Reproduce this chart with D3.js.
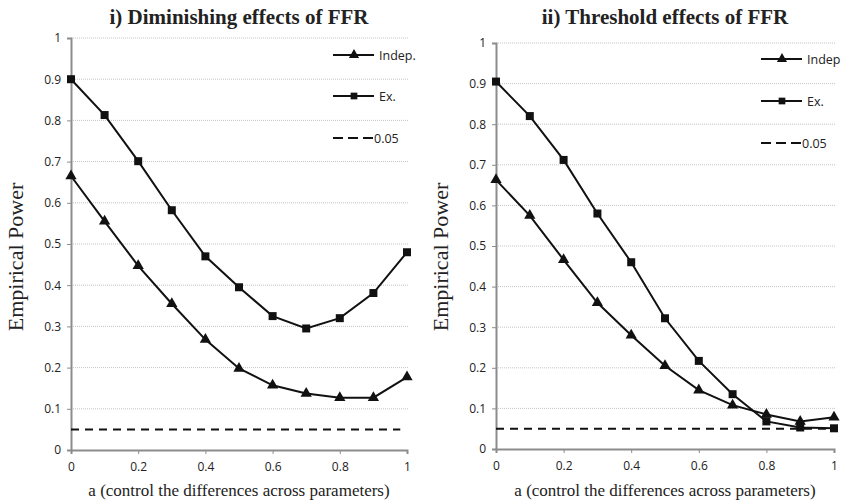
<!DOCTYPE html>
<html><head><meta charset="utf-8">
<script src="https://cdn.jsdelivr.net/npm/d3@7"></script>
<style>body{margin:0;background:#fff}</style>
</head><body>
<svg id="c" width="841" height="501"></svg>
<script>
const aValues = [0,0.1,0.2,0.3,0.4,0.5,0.6,0.7,0.8,0.9,1];
const xTicks = [0,0.2,0.4,0.6,0.8,1];
const yTicks = [0,0.1,0.2,0.3,0.4,0.5,0.6,0.7,0.8,0.9,1];
const titles = ["i) Diminishing effects of FFR","ii) Threshold effects of FFR"];
const indepLeft = [0.665,0.555,0.447,0.355,0.268,0.198,0.157,0.137,0.127,0.127,0.177];
const exLeft    = [0.900,0.813,0.701,0.582,0.470,0.395,0.325,0.295,0.320,0.381,0.480];
const indepRight= [0.663,0.575,0.466,0.360,0.280,0.205,0.145,0.108,0.085,0.068,0.078];
const exRight   = [0.905,0.820,0.712,0.580,0.460,0.322,0.217,0.135,0.068,0.053,0.051];
const refLevel = 0.05;
const legendLeft = ["Indep.","Ex.","0.05"];
const legendRight = ["Indep","Ex.","0.05"];
const xLabel = "a (control the differences across parameters)";
const yLabel = "Empirical Power";

const svg = d3.select("#c");
const panels = [
  {title:titles[0], indep:indepLeft, ex:exLeft, legend:legendLeft,
   x0:71, x1:407, y0:450, y1:38, refEnd:0.98, leg:{x:333, ys:[55,96,138]}},
  {title:titles[1], indep:indepRight, ex:exRight, legend:legendRight,
   x0:496, x1:834, y0:449, y1:43, refEnd:1, leg:{x:761, ys:[59,101,143]}}
];
const sans = "'Open Sans', 'Liberation Sans', sans-serif";
const serif = "'Liberation Serif', 'DejaVu Serif', serif";

panels.forEach(p => {
  const g = svg.append("g");
  const x = d3.scaleLinear().domain([0,1]).range([p.x0,p.x1]);
  const y = d3.scaleLinear().domain([0,1]).range([p.y0,p.y1]);
  // grid
  g.selectAll(".grid").data(yTicks.filter(d=>d>0)).join("line")
    .attr("x1",p.x0).attr("x2",p.x1+1).attr("y1",d=>y(d)).attr("y2",d=>y(d))
    .attr("stroke","#b5b5b5").attr("stroke-width",0.8).attr("stroke-dasharray","1,1");
  // y axis
  const ya = g.append("g").attr("transform",`translate(${p.x0},0)`)
    .call(d3.axisLeft(y).tickValues(yTicks).tickFormat(d3.format("~g")).tickSize(4).tickPadding(6));
  ya.select(".domain").attr("stroke","#8c8c8c").attr("stroke-width",2);
  ya.selectAll(".tick line").attr("stroke","#8c8c8c");
  ya.selectAll("text").attr("font-family",sans).attr("font-size",12).attr("fill","#222");
  // x axis
  const xa = g.append("g").attr("transform",`translate(0,${p.y0})`)
    .call(d3.axisBottom(x).tickValues(xTicks).tickFormat(d3.format("~g")).tickSize(4).tickPadding(8));
  xa.select(".domain").attr("stroke","#8c8c8c").attr("stroke-width",2);
  xa.selectAll(".tick line").attr("stroke","#8c8c8c");
  xa.selectAll("text").attr("font-family",sans).attr("font-size",12).attr("fill","#222");
  // reference line
  g.append("line").attr("x1",x(0)).attr("x2",x(p.refEnd)).attr("y1",y(refLevel)).attr("y2",y(refLevel))
    .attr("stroke","#111").attr("stroke-width",2).attr("stroke-dasharray","8,6");
  const line = d3.line().x((d,i)=>x(aValues[i])).y(d=>y(d));
  [p.ex, p.indep].forEach(s => {
    g.append("path").datum(s).attr("d",line).attr("fill","none").attr("stroke","#111").attr("stroke-width",2);
  });
  const tri = d3.symbol().type(d3.symbolTriangle).size(55);
  const sq = d3.symbol().type(d3.symbolSquare).size(64);
  g.selectAll(".tri").data(p.indep).join("path")
    .attr("transform",(d,i)=>`translate(${x(aValues[i])},${y(d)})`).attr("d",tri).attr("fill","#111");
  g.selectAll(".sq").data(p.ex).join("path")
    .attr("transform",(d,i)=>`translate(${x(aValues[i])},${y(d)})`).attr("d",sq).attr("fill","#111");
  // legend
  const L = p.leg;
  const triL = d3.symbol().type(d3.symbolTriangle).size(45);
  const sqL = d3.symbol().type(d3.symbolSquare).size(45);
  [0,1,2].forEach(k => {
    const yy = L.ys[k];
    const ln = g.append("line").attr("x1",L.x).attr("x2",L.x+(k===2?40:41)).attr("y1",yy).attr("y2",yy)
      .attr("stroke","#111").attr("stroke-width",2);
    if (k===2) ln.attr("stroke-dasharray","10,5");
    if (k===0) g.append("path").attr("transform",`translate(${L.x+21},${yy})`).attr("d",triL).attr("fill","#111");
    if (k===1) g.append("path").attr("transform",`translate(${L.x+21},${yy})`).attr("d",sqL).attr("fill","#111");
    g.append("text").attr("x",L.x+(k===2?41:46)).attr("y",yy+4.5).text(p.legend[k])
      .attr("font-family",sans).attr("font-size",12.5).attr("fill","#222");
  });
  // titles
  g.append("text").attr("x",(p.x0+p.x1)/2).attr("y",24).attr("text-anchor","middle")
    .attr("font-family",serif).attr("font-weight","bold").attr("font-size",21).attr("fill","#222").text(p.title);
  g.append("text").attr("x",(p.x0+p.x1)/2).attr("y",496).attr("text-anchor","middle")
    .attr("font-family",serif).attr("font-size",17).attr("fill","#222").text(xLabel);
  g.append("text").attr("transform",`translate(${p.x0-48},257) rotate(-90)`)
    .attr("text-anchor","middle").attr("font-family",serif).attr("font-size",22).attr("fill","#222").text(yLabel);
});
</script>
</body></html>
